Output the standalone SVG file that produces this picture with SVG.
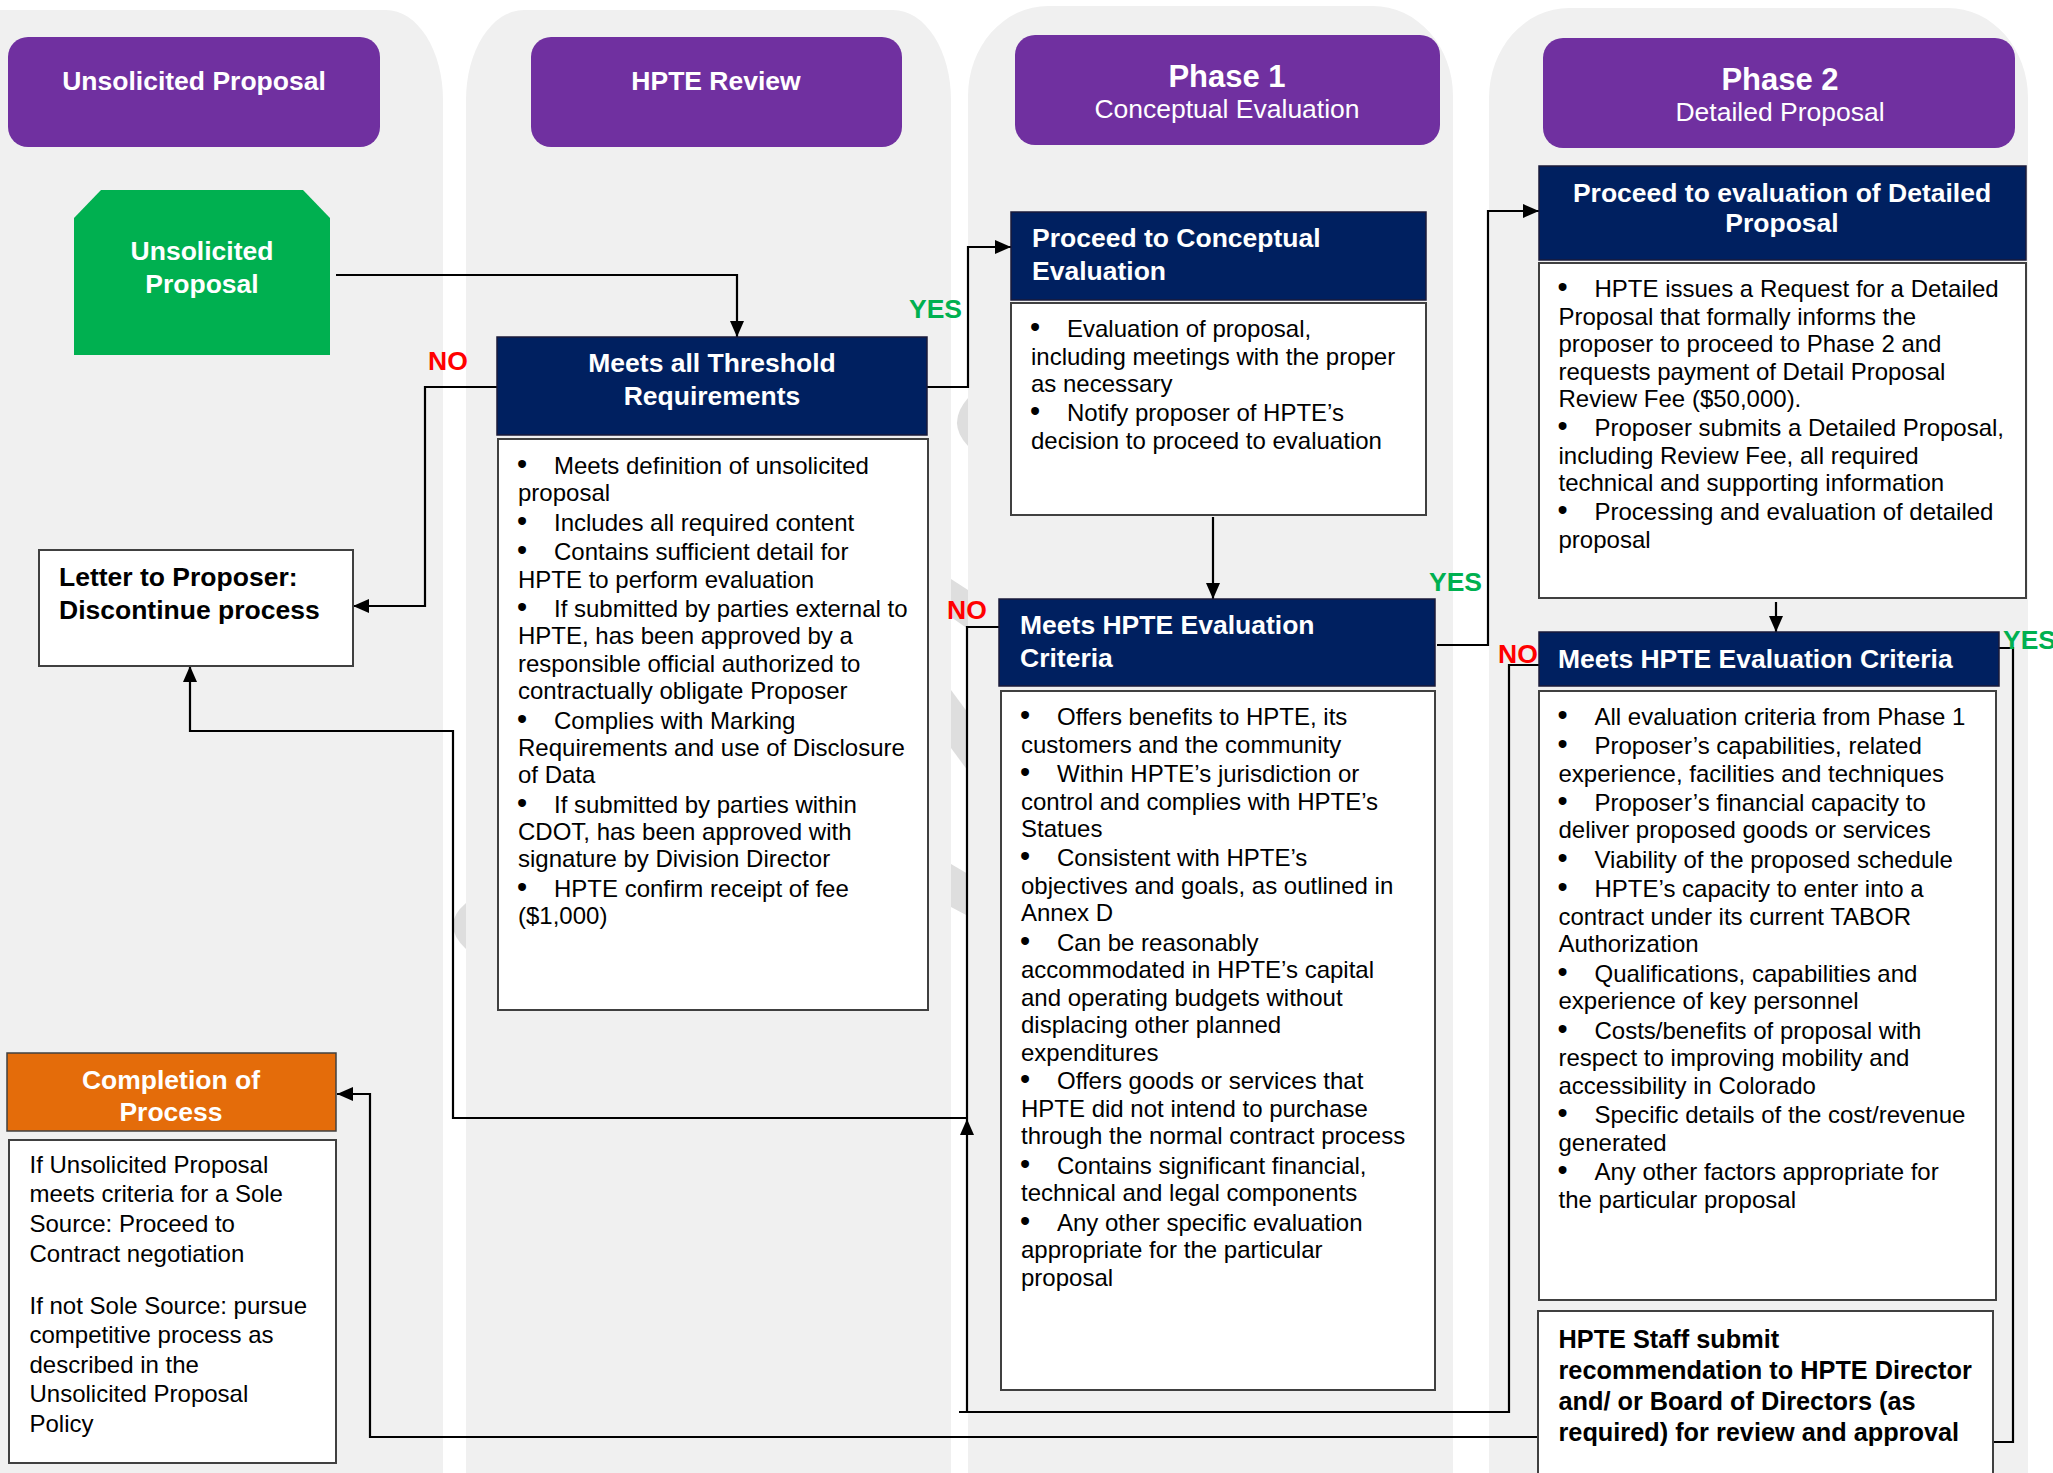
<svg xmlns="http://www.w3.org/2000/svg" width="2053" height="1473" viewBox="0 0 2053 1473">
<defs>
<style>
.lane{fill:#f0f0f0}
.chev{fill:#dedede}
.hdr{fill:#7030a0}
.navy{fill:#002060;stroke:#1a1a3a;stroke-width:1.5}
.wbox{fill:#ffffff;stroke:#404040;stroke-width:2}
.t{font-family:"Liberation Sans",Arial,sans-serif;font-size:24px;fill:#000}
.t tspan.u{font-size:29px}
.b{font-family:"Liberation Sans",Arial,sans-serif;font-weight:bold;font-size:26.5px}
.ph{font-size:31px}
.sub{font-size:26.5px}
.st{font-size:25.3px}
.wt{fill:#ffffff}
.bk{fill:#000}
.yes{fill:#00b050}
.no{fill:#ff0000}
.mid{text-anchor:middle}
.conn{fill:none;stroke:#000;stroke-width:2.2}
</style>
<marker id="arr" markerUnits="userSpaceOnUse" markerWidth="16" markerHeight="14" refX="16" refY="7" orient="auto">
<path d="M0,0 L16,7 L0,14 Z" fill="#000"/>
</marker>
</defs>
<rect width="2053" height="1473" fill="#ffffff"/>
<g id="lanes">
<path class="lane" d="M0,10 H386 A57,90 0 0 1 443,100 V1473 H0 Z"/>
<path class="lane" d="M466,100 A58,90 0 0 1 524,10 H893 A58,90 0 0 1 951,100 V1473 H466 Z"/>
<path class="lane" d="M968,96 A80,90 0 0 1 1048,6 H1373 A80,90 0 0 1 1453,96 V1473 H968 Z"/>
<path class="lane" d="M1489,98 A80,90 0 0 1 1569,8 H1948 A80,90 0 0 1 2028,98 V1473 H1489 Z"/>
<path class="chev" d="M968,398 Q946,423 968,446 Z"/>
<path class="chev" d="M951,579 L968,590 L968,629 L951,617 Z"/>
<path class="chev" d="M951,690 L968,713 L968,771 L951,748 Z"/>
<path class="chev" d="M951,864 L968,874 L968,916 L951,907 Z"/>
<path class="chev" d="M466,903 Q440,925 466,949 Z"/>
</g>
<g id="connectors">
<path class="conn" d="M336,275 H737 V337" marker-end="url(#arr)"/>
<path class="conn" d="M927,387 H968 V247 H1011" marker-end="url(#arr)"/>
<path class="conn" d="M497,387 H425 V606 H353" marker-end="url(#arr)"/>
<path class="conn" d="M1213,517 V599" marker-end="url(#arr)"/>
<path class="conn" d="M1437,645 H1488 V211 H1539" marker-end="url(#arr)"/>
<path class="conn" d="M999,627 H967 V1118 H453 V731 H190 V666" marker-end="url(#arr)"/>
<path class="conn" d="M1539,665 H1509 V1412 H959 M967,1412 V1119" marker-end="url(#arr)"/>
<path class="conn" d="M1776,602 V632" marker-end="url(#arr)"/>
<path class="conn" d="M1999,648 H2013 V1442 H1800 V1437 H370 V1094 H337" marker-end="url(#arr)"/>
<text class="b yes" x="909" y="318">YES</text>
<text class="b no" x="428" y="370">NO</text>
<text class="b no" x="947" y="619">NO</text>
<text class="b yes" x="1429" y="591">YES</text>
<text class="b no" x="1498" y="663">NO</text>
<text class="b yes" x="2003" y="649">YES</text>
</g>
<g id="hdr-unsolicited">
<rect class="hdr" x="8" y="37" width="372" height="110" rx="20"/>
<text class="b wt mid" x="194" y="90">Unsolicited Proposal</text>
</g>
<g id="hdr-review">
<rect class="hdr" x="531" y="37" width="371" height="110" rx="20"/>
<text class="b wt mid" x="716" y="90">HPTE Review</text>
</g>
<g id="hdr-phase1">
<rect class="hdr" x="1015" y="35" width="425" height="110" rx="20"/>
<text class="b wt mid ph" x="1227" y="87">Phase 1</text>
<text class="t wt mid sub" x="1227" y="118">Conceptual Evaluation</text>
</g>
<g id="hdr-phase2">
<rect class="hdr" x="1543" y="38" width="472" height="110" rx="20"/>
<text class="b wt mid ph" x="1780" y="90">Phase 2</text>
<text class="t wt mid sub" x="1780" y="121">Detailed Proposal</text>
</g>
<g id="start">
<path d="M101,190 H303 L330,218 V355 H74 V218 Z" fill="#00b050"/>
<text class="b wt mid" x="202" y="260">Unsolicited</text>
<text class="b wt mid" x="202" y="293">Proposal</text>
</g>
<g id="threshold">
<rect class="navy" x="497" y="337" width="430" height="98"/>
<text class="b wt mid" x="712" y="372">Meets all Threshold</text>
<text class="b wt mid" x="712" y="405">Requirements</text>
<rect class="wbox" x="498" y="439" width="430" height="571"/>
<text class="t" y="474"><tspan class="u" x="517">•</tspan><tspan x="554">Meets definition of unsolicited</tspan></text>
<text class="t" x="518" y="501.3">proposal</text>
<text class="t" y="530.8"><tspan class="u" x="517">•</tspan><tspan x="554">Includes all required content</tspan></text>
<text class="t" y="560.3"><tspan class="u" x="517">•</tspan><tspan x="554">Contains sufficient detail for</tspan></text>
<text class="t" x="518" y="587.6">HPTE to perform evaluation</text>
<text class="t" y="617.1"><tspan class="u" x="517">•</tspan><tspan x="554">If submitted by parties external to</tspan></text>
<text class="t" x="518" y="644.4">HPTE, has been approved by a</text>
<text class="t" x="518" y="671.7">responsible official authorized to</text>
<text class="t" x="518" y="699">contractually obligate Proposer</text>
<text class="t" y="728.5"><tspan class="u" x="517">•</tspan><tspan x="554">Complies with Marking</tspan></text>
<text class="t" x="518" y="755.8">Requirements and use of Disclosure</text>
<text class="t" x="518" y="783.1">of Data</text>
<text class="t" y="812.6"><tspan class="u" x="517">•</tspan><tspan x="554">If submitted by parties within</tspan></text>
<text class="t" x="518" y="839.9">CDOT, has been approved with</text>
<text class="t" x="518" y="867.2">signature by Division Director</text>
<text class="t" y="896.7"><tspan class="u" x="517">•</tspan><tspan x="554">HPTE confirm receipt of fee</tspan></text>
<text class="t" x="518" y="924">($1,000)</text>
</g>
<g id="letter">
<rect class="wbox" x="39" y="550" width="314" height="116"/>
<text class="b bk" x="59" y="585.5">Letter to Proposer:</text>
<text class="b bk" x="59" y="618.5">Discontinue process</text>
</g>
<g id="completion">
<rect x="7" y="1053" width="329" height="78" fill="#e46c0a" stroke="#404040" stroke-width="1.5"/>
<text class="b wt mid" x="171" y="1088.5">Completion of</text>
<text class="b wt mid" x="171" y="1121">Process</text>
<rect class="wbox" x="9" y="1140" width="327" height="323"/>
<text class="t" x="29.5" y="1172.5">If Unsolicited Proposal</text>
<text class="t" x="29.5" y="1202">meets criteria for a Sole</text>
<text class="t" x="29.5" y="1231.5">Source: Proceed to</text>
<text class="t" x="29.5" y="1261.5">Contract negotiation</text>
<text class="t" x="29.5" y="1314">If not Sole Source: pursue</text>
<text class="t" x="29.5" y="1343">competitive process as</text>
<text class="t" x="29.5" y="1372.5">described in the</text>
<text class="t" x="29.5" y="1402">Unsolicited Proposal</text>
<text class="t" x="29.5" y="1431.5">Policy</text>
</g>
<g id="proceed-conceptual">
<rect class="navy" x="1011" y="212" width="415" height="88"/>
<text class="b wt" x="1032" y="246.5">Proceed to Conceptual</text>
<text class="b wt" x="1032" y="279.5">Evaluation</text>
<rect class="wbox" x="1011" y="303" width="415" height="212"/>
<text class="t" y="337"><tspan class="u" x="1030">•</tspan><tspan x="1067">Evaluation of proposal,</tspan></text>
<text class="t" x="1031" y="364.5">including meetings with the proper</text>
<text class="t" x="1031" y="392">as necessary</text>
<text class="t" y="421"><tspan class="u" x="1030">•</tspan><tspan x="1067">Notify proposer of HPTE’s</tspan></text>
<text class="t" x="1031" y="448.5">decision to proceed to evaluation</text>
</g>
<g id="phase1-criteria">
<rect class="navy" x="999" y="599" width="436" height="87"/>
<text class="b wt" x="1020" y="634">Meets HPTE Evaluation</text>
<text class="b wt" x="1020" y="667">Criteria</text>
<rect class="wbox" x="1001" y="691" width="434" height="699"/>
<text class="t" y="725"><tspan class="u" x="1020">•</tspan><tspan x="1057">Offers benefits to HPTE, its</tspan></text>
<text class="t" x="1021" y="752.5">customers and the community</text>
<text class="t" y="782"><tspan class="u" x="1020">•</tspan><tspan x="1057">Within HPTE’s jurisdiction or</tspan></text>
<text class="t" x="1021" y="809.5">control and complies with HPTE’s</text>
<text class="t" x="1021" y="837">Statues</text>
<text class="t" y="866"><tspan class="u" x="1020">•</tspan><tspan x="1057">Consistent with HPTE’s</tspan></text>
<text class="t" x="1021" y="893.5">objectives and goals, as outlined in</text>
<text class="t" x="1021" y="921">Annex D</text>
<text class="t" y="950.5"><tspan class="u" x="1020">•</tspan><tspan x="1057">Can be reasonably</tspan></text>
<text class="t" x="1021" y="978">accommodated in HPTE’s capital</text>
<text class="t" x="1021" y="1005.5">and operating budgets without</text>
<text class="t" x="1021" y="1033">displacing other planned</text>
<text class="t" x="1021" y="1060.5">expenditures</text>
<text class="t" y="1089"><tspan class="u" x="1020">•</tspan><tspan x="1057">Offers goods or services that</tspan></text>
<text class="t" x="1021" y="1116.5">HPTE did not intend to purchase</text>
<text class="t" x="1021" y="1144">through the normal contract process</text>
<text class="t" y="1173.5"><tspan class="u" x="1020">•</tspan><tspan x="1057">Contains significant financial,</tspan></text>
<text class="t" x="1021" y="1201">technical and legal components</text>
<text class="t" y="1230.5"><tspan class="u" x="1020">•</tspan><tspan x="1057">Any other specific evaluation</tspan></text>
<text class="t" x="1021" y="1258">appropriate for the particular</text>
<text class="t" x="1021" y="1285.5">proposal</text>
</g>
<g id="proceed-detailed">
<rect class="navy" x="1539" y="166" width="487" height="94"/>
<text class="b wt mid" x="1782" y="202">Proceed to evaluation of Detailed</text>
<text class="b wt mid" x="1782" y="232">Proposal</text>
<rect class="wbox" x="1539" y="263" width="487" height="335"/>
<text class="t" y="297"><tspan class="u" x="1557.5">•</tspan><tspan x="1594.5">HPTE issues a Request for a Detailed</tspan></text>
<text class="t" x="1558.5" y="324.5">Proposal that formally informs the</text>
<text class="t" x="1558.5" y="352">proposer to proceed to Phase 2 and</text>
<text class="t" x="1558.5" y="379.5">requests payment of Detail Proposal</text>
<text class="t" x="1558.5" y="407">Review Fee ($50,000).</text>
<text class="t" y="436"><tspan class="u" x="1557.5">•</tspan><tspan x="1594.5">Proposer submits a Detailed Proposal,</tspan></text>
<text class="t" x="1558.5" y="463.5">including Review Fee, all required</text>
<text class="t" x="1558.5" y="491">technical and supporting information</text>
<text class="t" y="520"><tspan class="u" x="1557.5">•</tspan><tspan x="1594.5">Processing and evaluation of detailed</tspan></text>
<text class="t" x="1558.5" y="547.5">proposal</text>
</g>
<g id="phase2-criteria">
<rect class="navy" x="1539" y="632" width="460" height="54"/>
<text class="b wt" x="1558" y="668">Meets HPTE Evaluation Criteria</text>
<rect class="wbox" x="1539" y="691" width="457" height="609"/>
<text class="t" y="725"><tspan class="u" x="1557.5">•</tspan><tspan x="1594.5">All evaluation criteria from Phase 1</tspan></text>
<text class="t" y="754"><tspan class="u" x="1557.5">•</tspan><tspan x="1594.5">Proposer’s capabilities, related</tspan></text>
<text class="t" x="1558.5" y="781.5">experience, facilities and techniques</text>
<text class="t" y="810.5"><tspan class="u" x="1557.5">•</tspan><tspan x="1594.5">Proposer’s financial capacity to</tspan></text>
<text class="t" x="1558.5" y="838">deliver proposed goods or services</text>
<text class="t" y="867.5"><tspan class="u" x="1557.5">•</tspan><tspan x="1594.5">Viability of the proposed schedule</tspan></text>
<text class="t" y="897"><tspan class="u" x="1557.5">•</tspan><tspan x="1594.5">HPTE’s capacity to enter into a</tspan></text>
<text class="t" x="1558.5" y="924.5">contract under its current TABOR</text>
<text class="t" x="1558.5" y="952">Authorization</text>
<text class="t" y="981.5"><tspan class="u" x="1557.5">•</tspan><tspan x="1594.5">Qualifications, capabilities and</tspan></text>
<text class="t" x="1558.5" y="1009">experience of key personnel</text>
<text class="t" y="1038.5"><tspan class="u" x="1557.5">•</tspan><tspan x="1594.5">Costs/benefits of proposal with</tspan></text>
<text class="t" x="1558.5" y="1066">respect to improving mobility and</text>
<text class="t" x="1558.5" y="1093.5">accessibility in Colorado</text>
<text class="t" y="1123"><tspan class="u" x="1557.5">•</tspan><tspan x="1594.5">Specific details of the cost/revenue</tspan></text>
<text class="t" x="1558.5" y="1150.5">generated</text>
<text class="t" y="1180"><tspan class="u" x="1557.5">•</tspan><tspan x="1594.5">Any other factors appropriate for</tspan></text>
<text class="t" x="1558.5" y="1207.5">the particular proposal</text>
</g>
<g id="staff">
<rect class="wbox" x="1538" y="1311" width="455" height="180"/>
<text class="b bk st" x="1558.5" y="1347.5">HPTE Staff submit</text>
<text class="b bk st" x="1558.5" y="1378.5">recommendation to HPTE Director</text>
<text class="b bk st" x="1558.5" y="1409.5">and/ or Board of Directors (as</text>
<text class="b bk st" x="1558.5" y="1440.5">required) for review and approval</text>
</g>
</svg>
